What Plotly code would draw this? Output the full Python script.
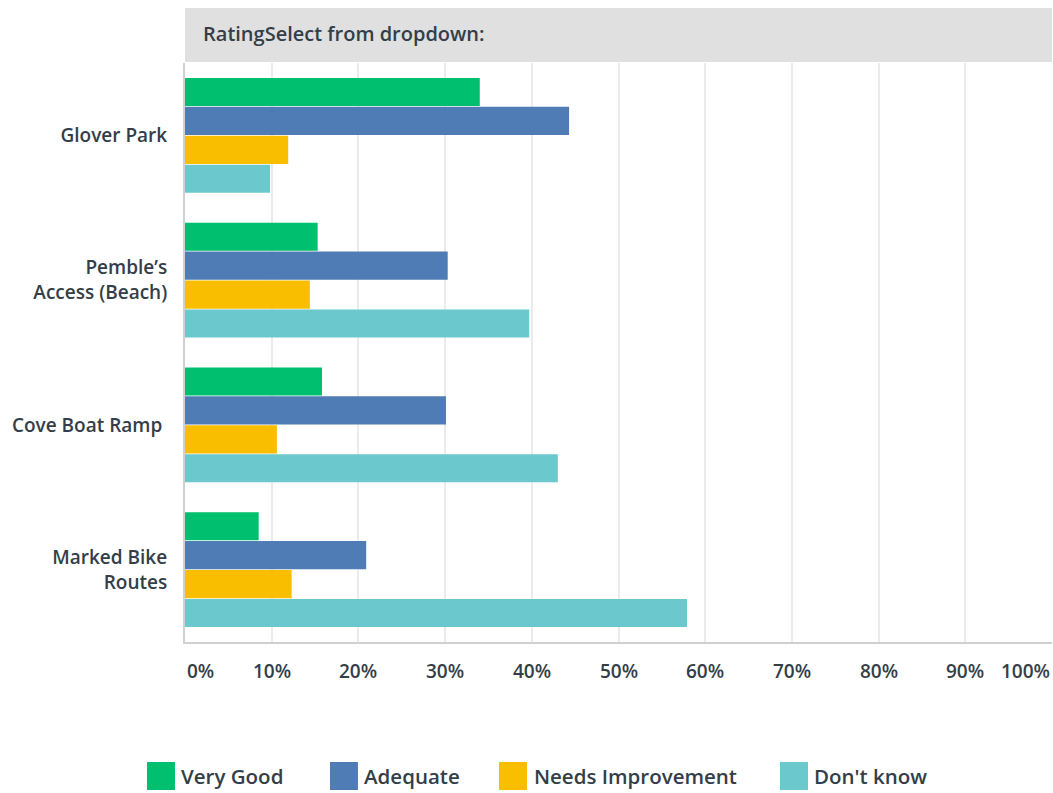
import plotly.graph_objects as go

categories = ["Glover Park", "Pemble’s<br>Access (Beach)", "Cove Boat Ramp ", "Marked Bike<br>Routes"]
series_names = ["Very Good", "Adequate", "Needs Improvement", "Don't know"]
very_good = [34.0, 15.3, 15.8, 8.5]
adequate = [44.3, 30.3, 30.1, 20.9]
needs_improvement = [11.9, 14.4, 10.6, 12.3]
dont_know = [9.8, 39.7, 43.0, 57.9]
colors = ["#00bf6f", "#507cb6", "#f9be00", "#6bc8cd"]
tick_vals = [0, 10, 20, 30, 40, 50, 60, 70, 80, 90, 100]
tick_text = ["0%", "10%", "20%", "30%", "40%", "50%", "60%", "70%", "80%", "90%", "100%"]
header_text = "RatingSelect from dropdown:"

TXT = "#333e48"
FONT = "Open Sans"

fig = go.Figure()
for name, vals, col in zip(series_names, [very_good, adequate, needs_improvement, dont_know], colors):
    fig.add_trace(go.Bar(
        y=categories, x=vals, name=name, orientation="h",
        marker=dict(color=col, line=dict(width=0)),
        showlegend=False, hoverinfo="x+name",
    ))

annotations = []
for v, t in zip(tick_vals, tick_text):
    anchor = "left" if v == tick_vals[0] else ("right" if v == tick_vals[-1] else "center")
    annotations.append(dict(
        x=v, y=-0.05, xref="x", yref="paper", text=t, showarrow=False,
        xanchor=anchor, yanchor="middle",
        font=dict(family=FONT, size=19, color=TXT, weight=600),
    ))
annotations.append(dict(
    x=0.018, y=1.0518, xref="paper", yref="paper", text=header_text,
    showarrow=False, xanchor="left", yanchor="middle",
    font=dict(family=FONT, size=20, color=TXT, weight=600),
))

# custom legend (large square swatches)
legend_swatch_x = [-0.0438, 0.1672, 0.3622, 0.6863]
legend_text_x = [-0.0069, 0.2042, 0.4002, 0.7232]
sw_w = 28 / 867
shapes = [dict(
    type="rect", xref="paper", yref="paper",
    x0=0, x1=1, y0=1.0017, y1=1.095,
    fillcolor="#e0e0e0", line=dict(width=0), layer="below",
)]
for name, col, sx, tx in zip(series_names, colors, legend_swatch_x, legend_text_x):
    shapes.append(dict(
        type="rect", xref="paper", yref="paper",
        x0=sx, x1=sx + sw_w, y0=-0.2556, y1=-0.2073,
        fillcolor=col, line=dict(width=0),
    ))
    annotations.append(dict(
        x=tx, y=-0.2314, xref="paper", yref="paper", text=name,
        showarrow=False, xanchor="left", yanchor="middle",
        font=dict(family=FONT, size=20.5, color=TXT, weight=600),
    ))

fig.update_layout(
    width=1053, height=793,
    margin=dict(l=185, r=1, t=63, b=151),
    paper_bgcolor="white", plot_bgcolor="white",
    barmode="group", bargap=0.2, bargroupgap=0.03,
    font=dict(family=FONT, size=17, color=TXT),
    showlegend=False,
    xaxis=dict(
        range=[0, 100], tickvals=tick_vals, showticklabels=False,
        showgrid=True, gridcolor="#ebebeb", gridwidth=1.5,
        zeroline=False, showline=True, linecolor="#d0d0d0", linewidth=2,
        fixedrange=True,
    ),
    yaxis=dict(
        autorange="reversed", showgrid=False, zeroline=False,
        showline=True, linecolor="#d0d0d0", linewidth=2,
        ticks="", ticklabelstandoff=12,
        tickfont=dict(family=FONT, size=19, color=TXT, weight=600),
        fixedrange=True,
    ),
    shapes=shapes,
    annotations=annotations,
)

fig.write_html(
    "out.html",
    config={"responsive": False, "displayModeBar": False},
    post_script="document.body.style.margin='0';document.body.style.overflow='hidden';",
)
